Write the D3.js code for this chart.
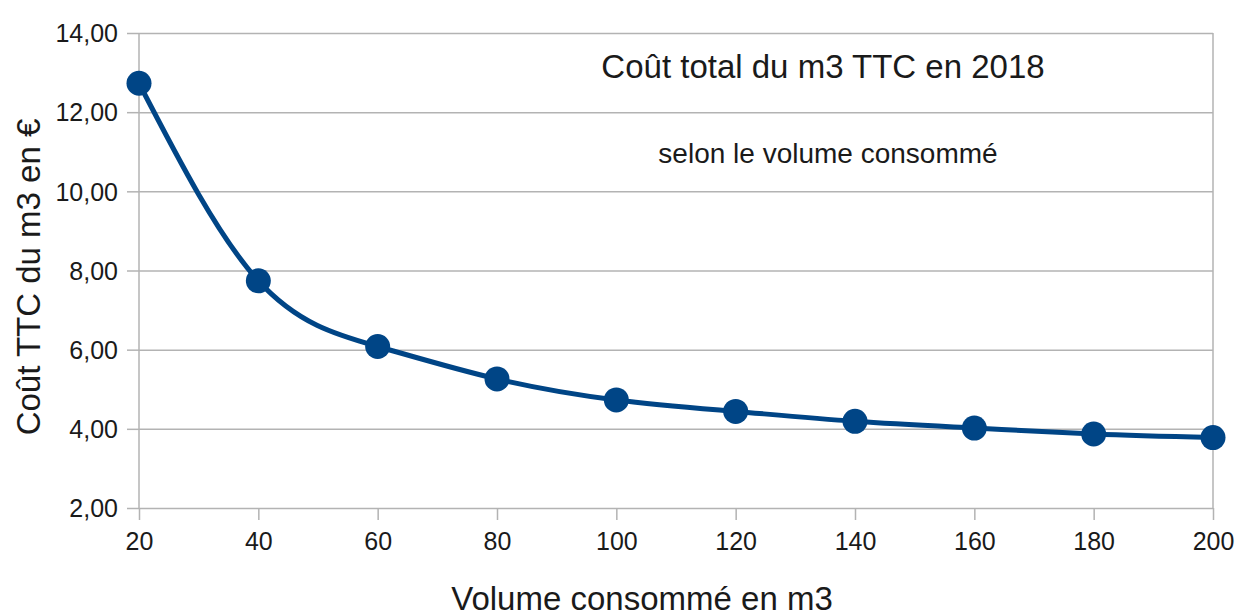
<!DOCTYPE html>
<html>
<head>
<meta charset="utf-8">
<script src="https://cdn.jsdelivr.net/npm/d3@7.9.0/dist/d3.min.js"></script>
<style>
  body { margin: 0; background: #fff; }
  svg text { font-family: "Liberation Sans", Arial, sans-serif; fill: #1a1a1a; }
</style>
</head>
<body>
<svg id="chart" width="1238" height="615"></svg>
<script>
// data
const volumes = [20, 40, 60, 80, 100, 120, 140, 160, 180, 200];
const costs = [12.73, 7.74, 6.08, 5.26, 4.73, 4.44, 4.19, 4.02, 3.87, 3.78];
const yTicks = [2, 4, 6, 8, 10, 12, 14];

const svg = d3.select('#chart');
const plotLeft = 139, plotRight = 1213, plotTop = 33, plotBottom = 508;

let x = d3.scaleLinear().domain([20, 200]).range([plotLeft, plotRight]);
let y = d3.scaleLinear().domain([2, 14]).range([plotBottom, plotTop]);
const fmt = (d) => d3.format('.2f')(d).replace('.', ',');

// horizontal grid
svg.append('g')
  .attr('transform', `translate(${plotLeft},0)`)
  .call(d3.axisLeft(y).tickValues(yTicks).tickSize(-(plotRight - plotLeft)).tickPadding(0).tickFormat(''))
  .call(g => g.select('.domain').remove())
  .call(g => g.selectAll('line').attr('stroke', '#b3b3b3').attr('stroke-width', 1.5));

// y axis ticks + labels
svg.append('g')
  .attr('transform', `translate(${plotLeft},0)`)
  .call(d3.axisLeft(y).tickValues(yTicks).tickSize(12).tickPadding(9).tickFormat(fmt))
  .call(g => g.select('.domain').remove())
  .call(g => g.selectAll('line').attr('stroke', '#b3b3b3').attr('stroke-width', 1.5))
  .call(g => g.selectAll('text').attr('font-size', 25).attr('dy', '0.35em'));

// x axis
svg.append('g')
  .attr('transform', `translate(0,${plotBottom})`)
  .call(d3.axisBottom(x).tickValues(volumes).tickSize(12).tickPadding(12))
  .call(g => g.select('.domain').remove())
  .call(g => g.selectAll('line').attr('stroke', '#b3b3b3').attr('stroke-width', 1.5))
  .call(g => g.selectAll('text').attr('font-size', 25));

// vertical borders
[plotLeft, plotRight].forEach(px => {
  svg.append('line')
    .attr('x1', px).attr('x2', px).attr('y1', plotTop).attr('y2', plotBottom)
    .attr('stroke', '#b3b3b3').attr('stroke-width', 1.5);
});

// curve
const line = d3.line()
  .x((d, i) => x(volumes[i]))
  .y(d => y(d))
  .curve(d3.curveNatural);

svg.append('path')
  .datum(costs)
  .attr('d', line)
  .attr('fill', 'none')
  .attr('stroke', '#004586')
  .attr('stroke-width', 5);

svg.append('g').selectAll('circle')
  .data(costs)
  .join('circle')
  .attr('cx', (d, i) => x(volumes[i]))
  .attr('cy', d => y(d))
  .attr('r', 12.5)
  .attr('fill', '#004586');

// titles
svg.append('text')
  .attr('x', 823).attr('y', 78)
  .attr('text-anchor', 'middle')
  .attr('font-size', 33)
  .text('Coût total du m3 TTC en 2018');

svg.append('text')
  .attr('x', 828).attr('y', 163)
  .attr('text-anchor', 'middle')
  .attr('font-size', 28)
  .text('selon le volume consommé');

svg.append('text')
  .attr('x', 642).attr('y', 610)
  .attr('text-anchor', 'middle')
  .attr('font-size', 33)
  .text('Volume consommé en m3');

svg.append('text')
  .attr('transform', 'translate(40,277) rotate(-90)')
  .attr('text-anchor', 'middle')
  .attr('font-size', 33)
  .text('Coût TTC du m3 en €');
</script>
</body>
</html>
